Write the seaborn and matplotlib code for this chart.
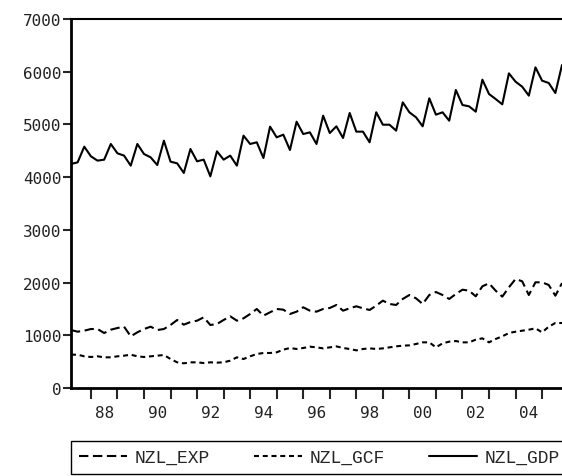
# NZL quarterly series, EViews-style line chart
import numpy as np
import pandas as pd
import matplotlib
matplotlib.use("Agg")
import matplotlib.pyplot as plt
import seaborn as sns

# quarterly observations 1987Q2 - 2005Q4
start_year = 1987.25
nzl_gdp = [4249, 4281, 4578, 4395, 4313, 4332, 4629, 4452, 4408, 4218,
           4629, 4439, 4376, 4230, 4692, 4294, 4262, 4079, 4534, 4300,
           4332, 4015, 4490, 4332, 4408, 4218, 4787, 4629, 4661, 4363,
           4958, 4755, 4806, 4515, 5052, 4818, 4850, 4629, 5166, 4837,
           4964, 4743, 5217, 4863, 4863, 4661, 5230, 4995, 4995, 4882,
           5419, 5230, 5135, 4964, 5495, 5185, 5230, 5071, 5653, 5369,
           5343, 5242, 5849, 5577, 5482, 5381, 5969, 5811, 5716, 5546,
           6083, 5830, 5786, 5596, 6127]
nzl_exp = [1100, 1068, 1087, 1119, 1119, 1043, 1106, 1138, 1163, 980,
           1056, 1119, 1163, 1100, 1119, 1195, 1290, 1201, 1252, 1277,
           1341, 1195, 1214, 1290, 1360, 1277, 1322, 1404, 1499, 1372,
           1436, 1499, 1486, 1404, 1448, 1531, 1467, 1448, 1499, 1518,
           1575, 1467, 1512, 1550, 1512, 1480, 1562, 1657, 1594, 1575,
           1689, 1764, 1701, 1594, 1764, 1821, 1764, 1689, 1783, 1865,
           1846, 1739, 1929, 1986, 1846, 1733, 1910, 2068, 2024, 1764,
           2005, 2005, 1954, 1751, 1990]
nzl_gcf = [632, 632, 601, 588, 601, 582, 582, 601, 613, 632,
           601, 588, 601, 613, 626, 550, 487, 468, 487, 487,
           474, 487, 481, 487, 519, 582, 550, 601, 645, 664,
           664, 677, 727, 759, 740, 759, 784, 771, 752, 771,
           790, 759, 740, 714, 740, 752, 740, 752, 771, 790,
           803, 809, 835, 866, 866, 771, 847, 879, 891, 866,
           866, 917, 942, 866, 930, 980, 1043, 1068, 1087, 1106,
           1132, 1056, 1163, 1233, 1233]

series_names = ["NZL_EXP", "NZL_GCF", "NZL_GDP"]
year_ticks = list(range(1988, 2006))
year_labels = ["88", "90", "92", "94", "96", "98", "00", "02", "04"]
y_ticks = [0, 1000, 2000, 3000, 4000, 5000, 6000, 7000]

dates = start_year + 0.25 * np.arange(len(nzl_gdp))
df = pd.concat([
    pd.DataFrame({"date": dates, "value": vals, "series": name})
    for name, vals in zip(series_names, [nzl_exp, nzl_gcf, nzl_gdp])
])

sns.set_style("white")
plt.rcParams["font.family"] = ["DejaVu Sans Mono"]

fig = plt.figure(figsize=(5.62, 4.77), dpi=100)
ax = fig.add_axes([71 / 562, 1 - 389 / 477, 1 - 71 / 562, 369 / 477])

sns.lineplot(data=df, x="date", y="value", style="series",
             style_order=series_names,
             dashes={"NZL_EXP": (4.5, 2.2), "NZL_GCF": (2.4, 1.8), "NZL_GDP": ""},
             color="black", linewidth=1.5, ax=ax)

ax.set_xlim(start_year, dates[-1])
ax.set_ylim(0, 7000)
ax.set_xlabel("")
ax.set_ylabel("")

ax.set_yticks(y_ticks)
ax.set_yticklabels([str(v) for v in y_ticks], fontsize=11.5, color="#222222")
ax.tick_params(axis="y", direction="out", length=6, width=1.5, pad=1, left=True)

# year marks every year, labels centred in even years
ax.set_xticks(year_ticks)
ax.set_xticklabels([])
ax.set_xticks([y + 0.5 for y in range(1988, 2005, 2)], minor=True)
ax.set_xticklabels(year_labels, minor=True, fontsize=11.5, color="#222222")
ax.tick_params(axis="x", which="major", direction="out", length=8, width=1.5, bottom=True)
ax.tick_params(axis="x", which="minor", length=0, pad=12)

for side in ["left", "bottom"]:
    ax.spines[side].set_linewidth(2)
    ax.spines[side].set_color("black")
ax.spines["top"].set_linewidth(1.5)
ax.spines["top"].set_color("black")
ax.spines["right"].set_visible(False)

sns.move_legend(ax, loc="upper left", bbox_to_anchor=(0, -0.143, 1.012, 0),
                mode="expand", ncol=3, title=None, frameon=True, fancybox=False,
                edgecolor="black", framealpha=1, fontsize=13,
                handlelength=2.65, handletextpad=0.4, borderpad=0.45,
                borderaxespad=0, columnspacing=1.0)
leg = ax.get_legend()
leg.get_frame().set_linewidth(1)
for t in leg.get_texts():
    t.set_family(["Liberation Mono"])

fig.savefig("out.png", dpi=100, facecolor="white")
